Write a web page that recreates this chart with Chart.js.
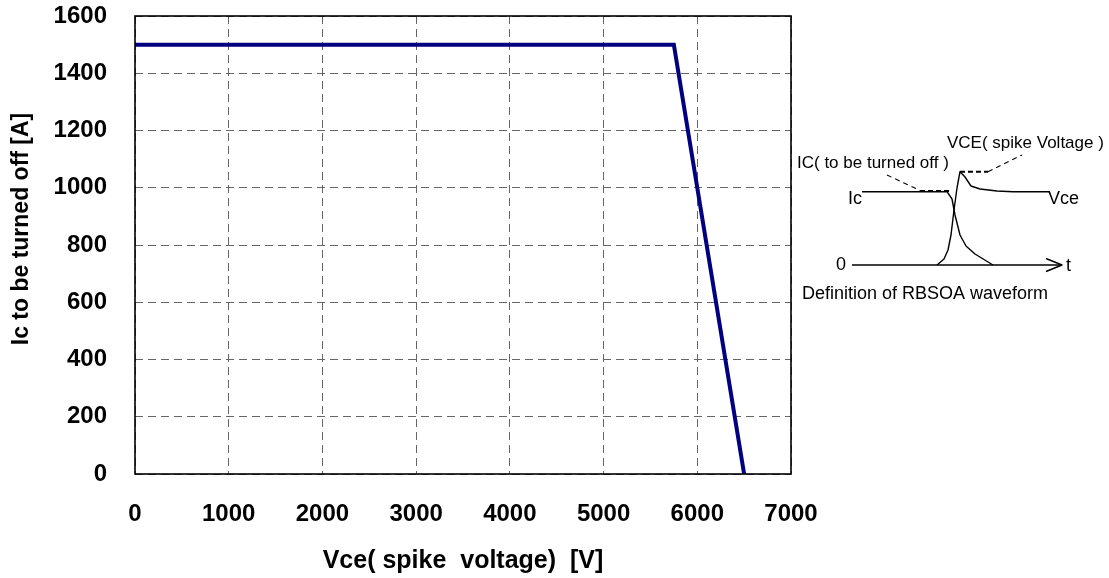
<!DOCTYPE html>
<html>
<head>
<meta charset="utf-8">
<script src="https://cdn.jsdelivr.net/npm/chart.js@4/dist/chart.umd.min.js"></script>
<style>
  html, body { margin: 0; padding: 0; background: #ffffff; }
  #wrap { width: 1109px; height: 578px; }
</style>
</head>
<body>
<div id="wrap"><canvas id="c" width="1109" height="578"></canvas></div>
<script>
// ---- Data ----
const vceValues = [0, 5750, 6500];      // V
const icValues  = [1500, 1500, 0];      // A
const xTickValues = [0, 1000, 2000, 3000, 4000, 5000, 6000, 7000];
const yTickValues = [0, 200, 400, 600, 800, 1000, 1200, 1400, 1600];
const xTitle = 'Vce( spike  voltage)  [V]';
const yTitle = 'Ic to be turned off [A]';

// ---- Inset illustration (schematic waveform sketch, canvas pixels) ----
const inset = {
  icWave:  [[862,191.7],[947,191.7],[952,199],[955,215],[960,235],[966,246],[975,254],[993,265]],
  vceWave: [[937,265],[944,259],[948,250],[951,235],[954,210],[957,188],[960,171.7],[965,177],[971,186],[980,189],[997,191],[1013,191.7],[1050,191.7]],
  zeroLine: [[852,265],[1060,265]],
  arrow: [[1046,258.5],[1062,265],[1046,271.5]],
  icLeader: [[887,175],[920,190.5]],
  icLevel: [[920,191],[951,191]],
  vceLevel: [[960,171.7],[988,171.7]],
  vceLeader: [[988,171.7],[1022,155]],
  labels: [
    {t:'IC( to be turned off )', x:797, y:163, size:17},
    {t:'VCE( spike Voltage )', x:947, y:143, size:17},
    {t:'Ic', x:848, y:199, size:18},
    {t:'Vce', x:1048, y:199, size:18},
    {t:'0', x:836, y:265, size:18},
    {t:'t', x:1066, y:266, size:18},
    {t:'Definition of RBSOA waveform', x:802, y:294, size:18}
  ]
};

const FONT = "'Liberation Sans', Arial, Helvetica, sans-serif";

const framePlugin = {
  id: 'frame',
  afterDatasetsDraw(chart) {
    const {ctx, chartArea: a} = chart;
    ctx.save();
    ctx.setLineDash([]);
    ctx.strokeStyle = '#000';
    ctx.lineWidth = 1.6;
    ctx.strokeRect(a.left, a.top, a.right - a.left, a.bottom - a.top);
    ctx.restore();
  }
};

// y-axis title drawn slightly above the plot-area centre, as in the reference
const yTitlePlugin = {
  id: 'yTitle',
  afterDraw(chart) {
    const {ctx, chartArea: a} = chart;
    ctx.save();
    ctx.translate(22, (a.top + a.bottom) / 2 - 16);
    ctx.rotate(-Math.PI / 2);
    ctx.font = 'bold 23px ' + FONT;
    ctx.fillStyle = '#000';
    ctx.textAlign = 'center';
    ctx.textBaseline = 'middle';
    ctx.fillText(yTitle, 0, 0);
    ctx.restore();
  }
};

function poly(ctx, pts) {
  ctx.beginPath();
  pts.forEach((p, i) => i ? ctx.lineTo(p[0], p[1]) : ctx.moveTo(p[0], p[1]));
  ctx.stroke();
}

const insetPlugin = {
  id: 'inset',
  afterDraw(chart) {
    const ctx = chart.ctx;
    ctx.save();
    ctx.strokeStyle = '#000';
    ctx.lineJoin = 'round';
    ctx.setLineDash([]);
    ctx.lineWidth = 1.4;
    poly(ctx, inset.icWave);
    poly(ctx, inset.vceWave);
    poly(ctx, inset.zeroLine);
    poly(ctx, inset.arrow);
    ctx.lineWidth = 1.1;
    ctx.setLineDash([5, 4]);
    poly(ctx, inset.icLeader);
    poly(ctx, inset.vceLeader);
    ctx.lineWidth = 2;
    ctx.setLineDash([5, 3]);
    poly(ctx, inset.icLevel);
    poly(ctx, inset.vceLevel);
    ctx.setLineDash([]);
    ctx.fillStyle = '#000';
    ctx.textBaseline = 'middle';
    ctx.textAlign = 'left';
    inset.labels.forEach(l => {
      ctx.font = l.size + 'px ' + FONT;
      ctx.fillText(l.t, l.x, l.y);
    });
    ctx.restore();
  }
};

const points = vceValues.map((v, i) => ({x: v, y: icValues[i]}));

new Chart(document.getElementById('c'), {
  type: 'line',
  data: {
    datasets: [{
      data: points,
      borderColor: '#000080',
      backgroundColor: '#000080',
      borderWidth: 4,
      pointRadius: 0,
      tension: 0,
      fill: false,
      borderJoinStyle: 'miter'
    }]
  },
  options: {
    responsive: false,
    animation: false,
    events: [],
    layout: { padding: { top: 16, right: 318, left: 0, bottom: 0 } },
    plugins: { legend: { display: false }, tooltip: { enabled: false } },
    scales: {
      x: {
        type: 'linear',
        min: 0, max: 7000,
        afterFit(s) { s.height = 104; s.paddingLeft = 0; s.paddingRight = 0; s.paddingTop = 0; s.paddingBottom = 0; },
        afterBuildTicks(s) { s.ticks = xTickValues.map(v => ({value: v})); },
        grid: { color: '#666', lineWidth: 1, drawTicks: false },
        border: { display: false, dash: [8, 5] },
        ticks: {
          padding: 26,
          color: '#000',
          maxRotation: 0,
          font: { family: FONT, size: 24, weight: 'bold' },
          callback: v => String(v)
        },
        title: {
          display: true, text: xTitle, color: '#000',
          font: { family: FONT, size: 25, weight: 'bold' },
          padding: { top: 0, bottom: 2 }
        }
      },
      y: {
        type: 'linear',
        min: 0, max: 1600,
        afterFit(s) { s.width = 135; s.paddingLeft = 0; s.paddingRight = 0; s.paddingTop = 0; s.paddingBottom = 0; },
        afterBuildTicks(s) { s.ticks = yTickValues.map(v => ({value: v})); },
        grid: { color: '#666', lineWidth: 1, drawTicks: false },
        border: { display: false, dash: [8, 5] },
        ticks: {
          padding: 28,
          color: '#000',
          font: { family: FONT, size: 24, weight: 'bold' },
          callback: v => String(v)
        },
        title: { display: false }
      }
    }
  },
  plugins: [framePlugin, yTitlePlugin, insetPlugin]
});
</script>
</body>
</html>
